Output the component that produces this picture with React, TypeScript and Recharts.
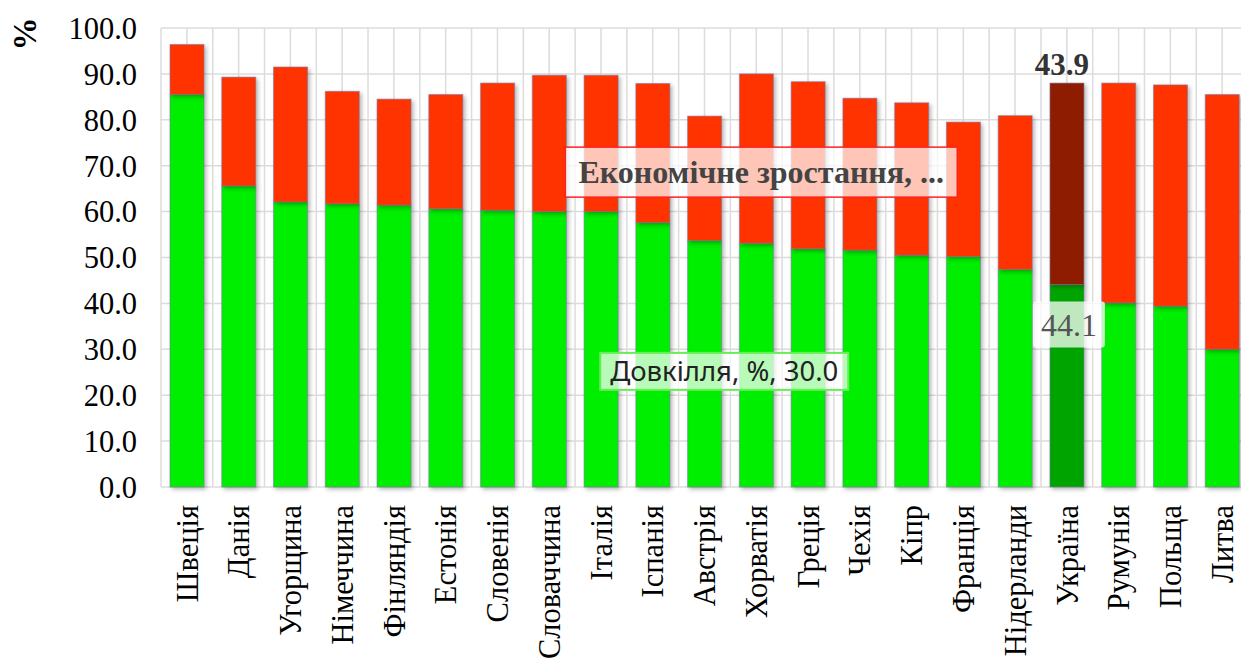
import React from 'react';
import { BarChart, Bar, XAxis, YAxis, CartesianGrid, Cell, LabelList, ReferenceDot } from 'recharts';

const countries = ['Швеція', 'Данія', 'Угорщина', 'Німеччина', 'Фінляндія', 'Естонія', 'Словенія', 'Словаччина', 'Італія', 'Іспанія', 'Австрія', 'Хорватія', 'Греція', 'Чехія', 'Кіпр', 'Франція', 'Нідерланди', 'Україна', 'Румунія', 'Польща', 'Литва'];
const environment = [85.5, 65.6, 62.1, 61.7, 61.4, 60.6, 60.3, 60.0, 60.0, 57.6, 53.7, 53.1, 51.9, 51.6, 50.5, 50.2, 47.4, 44.1, 40.1, 39.4, 30.0];
const economic = [10.9, 23.7, 29.4, 24.5, 23.1, 24.9, 27.7, 29.7, 29.7, 30.3, 27.1, 36.9, 36.4, 33.1, 33.2, 29.3, 33.5, 43.9, 47.9, 48.2, 55.5];
const yTicks = [0, 10, 20, 30, 40, 50, 60, 70, 80, 90, 100];
const envName = 'Довкілля, %';
const ecoName = 'Економічне зростання, %';
const ecoShortLabel = 'Економічне зростання, ...';
const highlight = 'Україна';

const data = countries.map((c, i) => ({
  country: c,
  env: environment[i],
  eco: economic[i],
  envLabel: c === highlight ? environment[i] : null,
  ecoLabel: c === highlight ? economic[i] : null,
}));

const SERIF = '"Liberation Serif", "Times New Roman", serif';
const SANS = '"Noto Sans", "Open Sans", sans-serif';

const BarShape = (props: any) => {
  const { x, y, width, height, fill } = props;
  if (!height || height <= 0) return null;
  return (
    <rect
      x={x}
      y={y}
      width={width}
      height={height}
      fill={fill}
      stroke="rgba(120,120,170,0.55)"
      strokeWidth={1}
      style={{ filter: 'drop-shadow(2px 2px 2px rgba(0,0,0,0.3))' }}
    />
  );
};

const XTick = (props: any) => {
  const { x, y, payload } = props;
  return (
    <text
      x={x}
      y={y + 10}
      transform={`rotate(-90, ${x}, ${y + 10})`}
      textAnchor="end"
      dy="0.35em"
      fontFamily={SERIF}
      fontSize={30.5}
      fill="#000"
    >
      {payload.value}
    </text>
  );
};

const EcoTopLabel = (props: any) => {
  const { x, y, width, value } = props;
  if (value === null || value === undefined) return null;
  return (
    <text x={x + width / 2 - 5} y={y - 8} textAnchor="middle" fontFamily={SERIF} fontSize={31} fontWeight="bold" fill="#333">
      {Number(value).toFixed(1)}
    </text>
  );
};

const EnvLabel = (props: any) => {
  const { x, y, width, value } = props;
  if (value === null || value === undefined) return null;
  const cx = x + width / 2 + 2;
  return (
    <g>
      <rect x={cx - 36} y={y + 17} width={72} height={46} rx={3} fill="rgba(255,255,255,0.75)" />
      <text x={cx} y={y + 51} textAnchor="middle" fontFamily={SERIF} fontSize={32} fill="#555">
        {Number(value).toFixed(1)}
      </text>
    </g>
  );
};

const EcoBox = (props: any) => {
  const { cx, cy } = props;
  const bx = cx + 5;
  return (
    <g>
      <rect x={bx - 196} y={cy - 25} width={392} height={50} fill="rgba(255,255,255,0.72)" stroke="#ff2020" strokeWidth={1.5} />
      <text x={bx} y={cy + 11} textAnchor="middle" fontFamily={SERIF} fontSize={32} fontWeight="bold" fill="#444">
        {ecoShortLabel}
      </text>
    </g>
  );
};

const EnvBox = (props: any) => {
  const { cx, cy } = props;
  const bx = cx - 32;
  return (
    <g>
      <rect x={bx - 124} y={cy - 18} width={248} height={37} fill="rgba(255,255,255,0.72)" stroke="#66ee55" strokeWidth={2} />
      <text x={bx} y={cy + 10} textAnchor="middle" fontFamily={SANS} fontSize={27.5} fill="#222">
        {`${envName}, ${environment[environment.length - 1].toFixed(1)}`}
      </text>
    </g>
  );
};

const PercentLabel = (props: any) => {
  const { viewBox } = props;
  const x = viewBox.x + 24;
  const y = viewBox.y + 6;
  return (
    <text x={x} y={y} transform={`rotate(-90, ${x}, ${y})`} textAnchor="middle" dy="0.35em" fontFamily={SERIF} fontSize={33} fontWeight="bold" fill="#000">
      %
    </text>
  );
};

export default function App() {
  const n = countries.length;
  return (
    <div style={{ position: 'absolute', left: 0, top: 0, width: 1241, height: 666, overflow: 'hidden', background: '#fff' }}>
      <BarChart width={1260} height={666} data={data} margin={{ top: 28, right: 12, left: 0, bottom: 0 }} barSize={34}>
        <CartesianGrid
          stroke="#dcdcdc"
          strokeWidth={1.5}
          verticalCoordinatesGenerator={({ offset }: any) => {
            const step = offset.width / n;
            const arr: number[] = [];
            for (let k = 0; k <= n * 2; k++) arr.push(offset.left + (k * step) / 2);
            return arr;
          }}
        />
        <XAxis dataKey="country" height={179} tickLine={false} axisLine={false} interval={0} tick={<XTick />} />
        <YAxis
          width={161}
          domain={[0, 100]}
          ticks={yTicks}
          tickFormatter={(v: number) => v.toFixed(1)}
          tickLine={false}
          axisLine={false}
          tickSize={0}
          tickMargin={24}
          tick={{ fontFamily: SERIF, fontSize: 30.5, fill: '#000' }}
          label={<PercentLabel />}
        />
        <Bar dataKey="env" name={envName} stackId="a" fill="#00ee00" isAnimationActive={false} shape={<BarShape />}>
          {data.map((d) => (
            <Cell key={d.country} fill={d.country === highlight ? '#00a400' : '#00ee00'} />
          ))}
          <LabelList dataKey="envLabel" content={<EnvLabel />} />
        </Bar>
        <Bar dataKey="eco" name={ecoName} stackId="a" fill="#ff3300" isAnimationActive={false} shape={<BarShape />}>
          {data.map((d) => (
            <Cell key={d.country} fill={d.country === highlight ? '#8e1c00' : '#ff3300'} />
          ))}
          <LabelList dataKey="ecoLabel" content={<EcoTopLabel />} />
        </Bar>
        <ReferenceDot x="Хорватія" y={68.6} r={1} isFront shape={<EcoBox />} />
        <ReferenceDot x="Хорватія" y={25.3} r={1} isFront shape={<EnvBox />} />
      </BarChart>
    </div>
  );
}
